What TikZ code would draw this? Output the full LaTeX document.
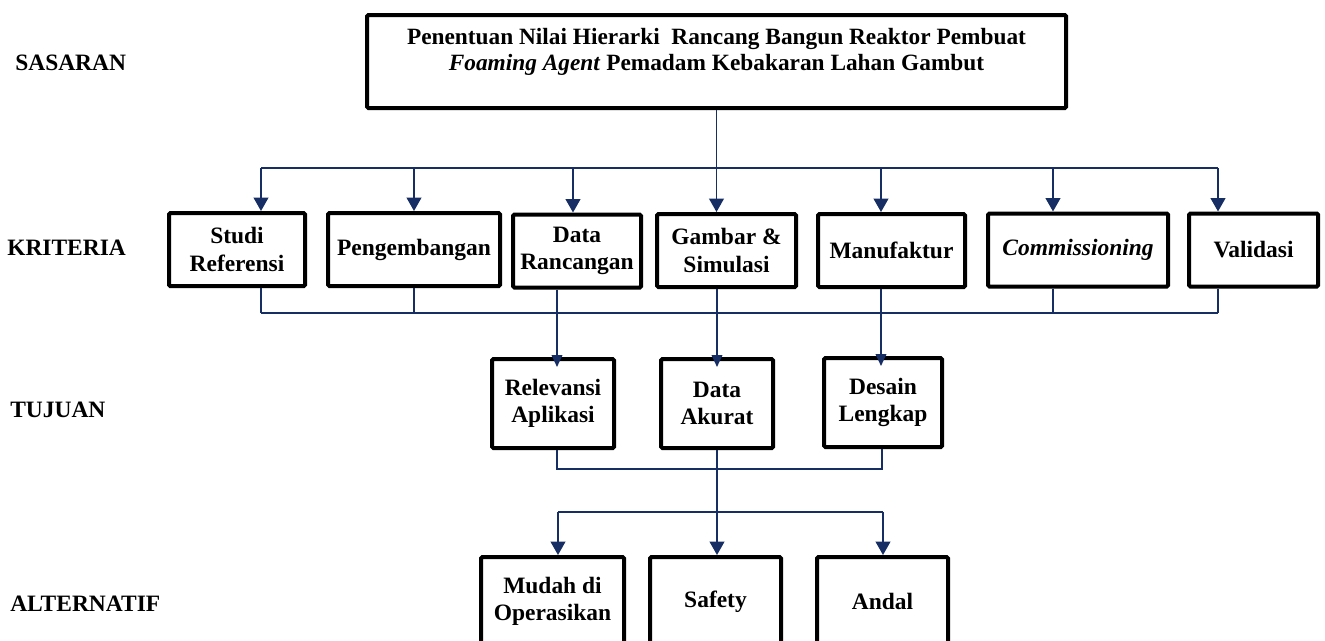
\documentclass[tikz,border=0pt]{standalone}
\usepackage{fontspec}
\setmainfont{Liberation Serif}
\usetikzlibrary{arrows.meta}
\definecolor{garis}{RGB}{22,46,100}

\begin{document}
\begin{tikzpicture}[x=0.75pt, y=-0.75pt,
    kotak/.style={draw, line width=3pt, rounded corners=1pt, fill=white, align=center, inner sep=0pt,
      font=\bfseries\fontsize{17.6}{20.5}\selectfont},
    tingkat/.style={anchor=west, inner sep=0pt, font=\bfseries\fontsize{17.6}{20.5}\selectfont},
    hubung/.style={draw=garis, line width=1.3pt},
    panah/.style={hubung, -{Triangle[width=11pt,length=10pt]}},
    panahkecil/.style={hubung, -{Triangle[width=8pt,length=9pt]}, shorten >=-7.5pt}]
        \useasboundingbox (0,0) rectangle (1325,640);
        \clip (0,0) rectangle (1325,640);

        % Label tingkat hierarki
        \node[tingkat] (sasaran) at (15,63) {SASARAN};
        \node[tingkat] (kriteria) at (7,248) {KRITERIA};
        \node[tingkat] (tujuan) at (10,410) {TUJUAN};
        \node[tingkat] (alternatif) at (10,604) {ALTERNATIF};

        % Sasaran
        \node[kotak, minimum width=524.25pt, minimum height=69.75pt] (goal) at (716.5,61.5) {};
        \node[align=center, font=\bfseries\fontsize{17.5}{19}\selectfont] (goaltext) at (716.5,52)
            {Penentuan Nilai Hierarki~ Rancang Bangun Reaktor Pembuat\\
             \textit{Foaming Agent} Pemadam Kebakaran Lahan Gambut};

        % Kriteria
        \node[kotak, minimum width=102pt, minimum height=54.75pt] (studi) at (237,249.5) {Studi\\Referensi};
        \node[kotak, minimum width=129pt, minimum height=54.75pt] (kembang) at (414,249.5) {Pengembangan};
        \node[kotak, minimum width=96pt, minimum height=54.75pt] (rancang) at (577,251) {Data\\Rancangan};
        \node[kotak, minimum width=104.25pt, minimum height=54.75pt] (gambar) at (726.5,250.5) {Gambar \&\\Simulasi};
        \node[kotak, minimum width=110.25pt, minimum height=54.75pt] (manuf) at (891.5,250.5) {Manufaktur};
        \node[kotak, minimum width=135pt, minimum height=54.75pt] (comm) at (1078,250) {\textit{Commissioning}};
        \node[kotak, minimum width=96.75pt, minimum height=54.75pt] (valid) at (1253.5,250) {Validasi};

        % Tujuan
        \node[kotak, minimum width=91.5pt, minimum height=66.75pt] (relevansi) at (553,403.5) {Relevansi\\Aplikasi};
        \node[kotak, minimum width=84pt, minimum height=66.75pt] (akurat) at (717,403.5) {Data\\Akurat};
        \node[kotak, minimum width=88.5pt, minimum height=66.75pt] (desain) at (883,402.5) {Desain\\Lengkap};

        % Alternatif
        \node[kotak, minimum width=107.25pt, minimum height=66.75pt] (mudah) at (552.5,601.5) {Mudah di\\Operasikan};
        \node[kotak, minimum width=98.25pt, minimum height=66.75pt] (safety) at (715.5,601.5) {Safety};
        \node[kotak, minimum width=98.25pt, minimum height=66.75pt] (andal) at (882.5,601.5) {Andal};

        % Sasaran ke kriteria
        \coordinate (k1) at (261,168);
        \coordinate (k2) at (414,168);
        \coordinate (k3) at (573,168);
        \coordinate (k4) at (716.5,168);
        \coordinate (k5) at (881,168);
        \coordinate (k6) at (1053,168);
        \coordinate (k7) at (1218,168);
        \draw[hubung] (k1) -- (k7);
        \draw[hubung] (goal.south) -- (k4);
        \draw[panah] (k1) -- (k1 |- studi.north);
        \draw[panah] (k2) -- (k2 |- kembang.north);
        \draw[panah] (k3) -- (k3 |- rancang.north);
        \draw[panah] (k4) -- (k4 |- gambar.north);
        \draw[panah] (k5) -- (k5 |- manuf.north);
        \draw[panah] (k6) -- (k6 |- comm.north);
        \draw[panah] (k7) -- (k7 |- valid.north);

        % Kriteria ke tujuan
        \coordinate (b1) at (261,313);
        \coordinate (b2) at (414,313);
        \coordinate (b3) at (557,313);
        \coordinate (b4) at (717,313);
        \coordinate (b5) at (881,313);
        \coordinate (b6) at (1053,313);
        \coordinate (b7) at (1218,313);
        \draw[hubung] (b1) -- (b7);
        \draw[hubung] (b1 |- studi.south) -- (b1);
        \draw[hubung] (b2 |- kembang.south) -- (b2);
        \draw[hubung] (b6 |- comm.south) -- (b6);
        \draw[hubung] (b7 |- valid.south) -- (b7);
        \draw[panahkecil] (b3 |- rancang.south) -- (b3 |- relevansi.north);
        \draw[panahkecil] (b4 |- gambar.south) -- (b4 |- akurat.north);
        \draw[panahkecil] (b5 |- manuf.south) -- (b5 |- desain.north);

        % Tujuan ke alternatif
        \coordinate (t1) at (557,469);
        \coordinate (t2) at (717,469);
        \coordinate (t3) at (882,469);
        \draw[hubung] (t1 |- relevansi.south) -- (t1) -- (t3) -- (t3 |- desain.south);
        \coordinate (a1) at (558,512);
        \coordinate (a2) at (717,512);
        \coordinate (a3) at (883,512);
        \draw[hubung] (a1) -- (a3);
        \draw[panah] (t2 |- akurat.south) -- (a2 |- safety.north);
        \draw[panah] (a1) -- (a1 |- mudah.north);
        \draw[panah] (a3) -- (a3 |- andal.north);

    \end{tikzpicture}
\end{document}
